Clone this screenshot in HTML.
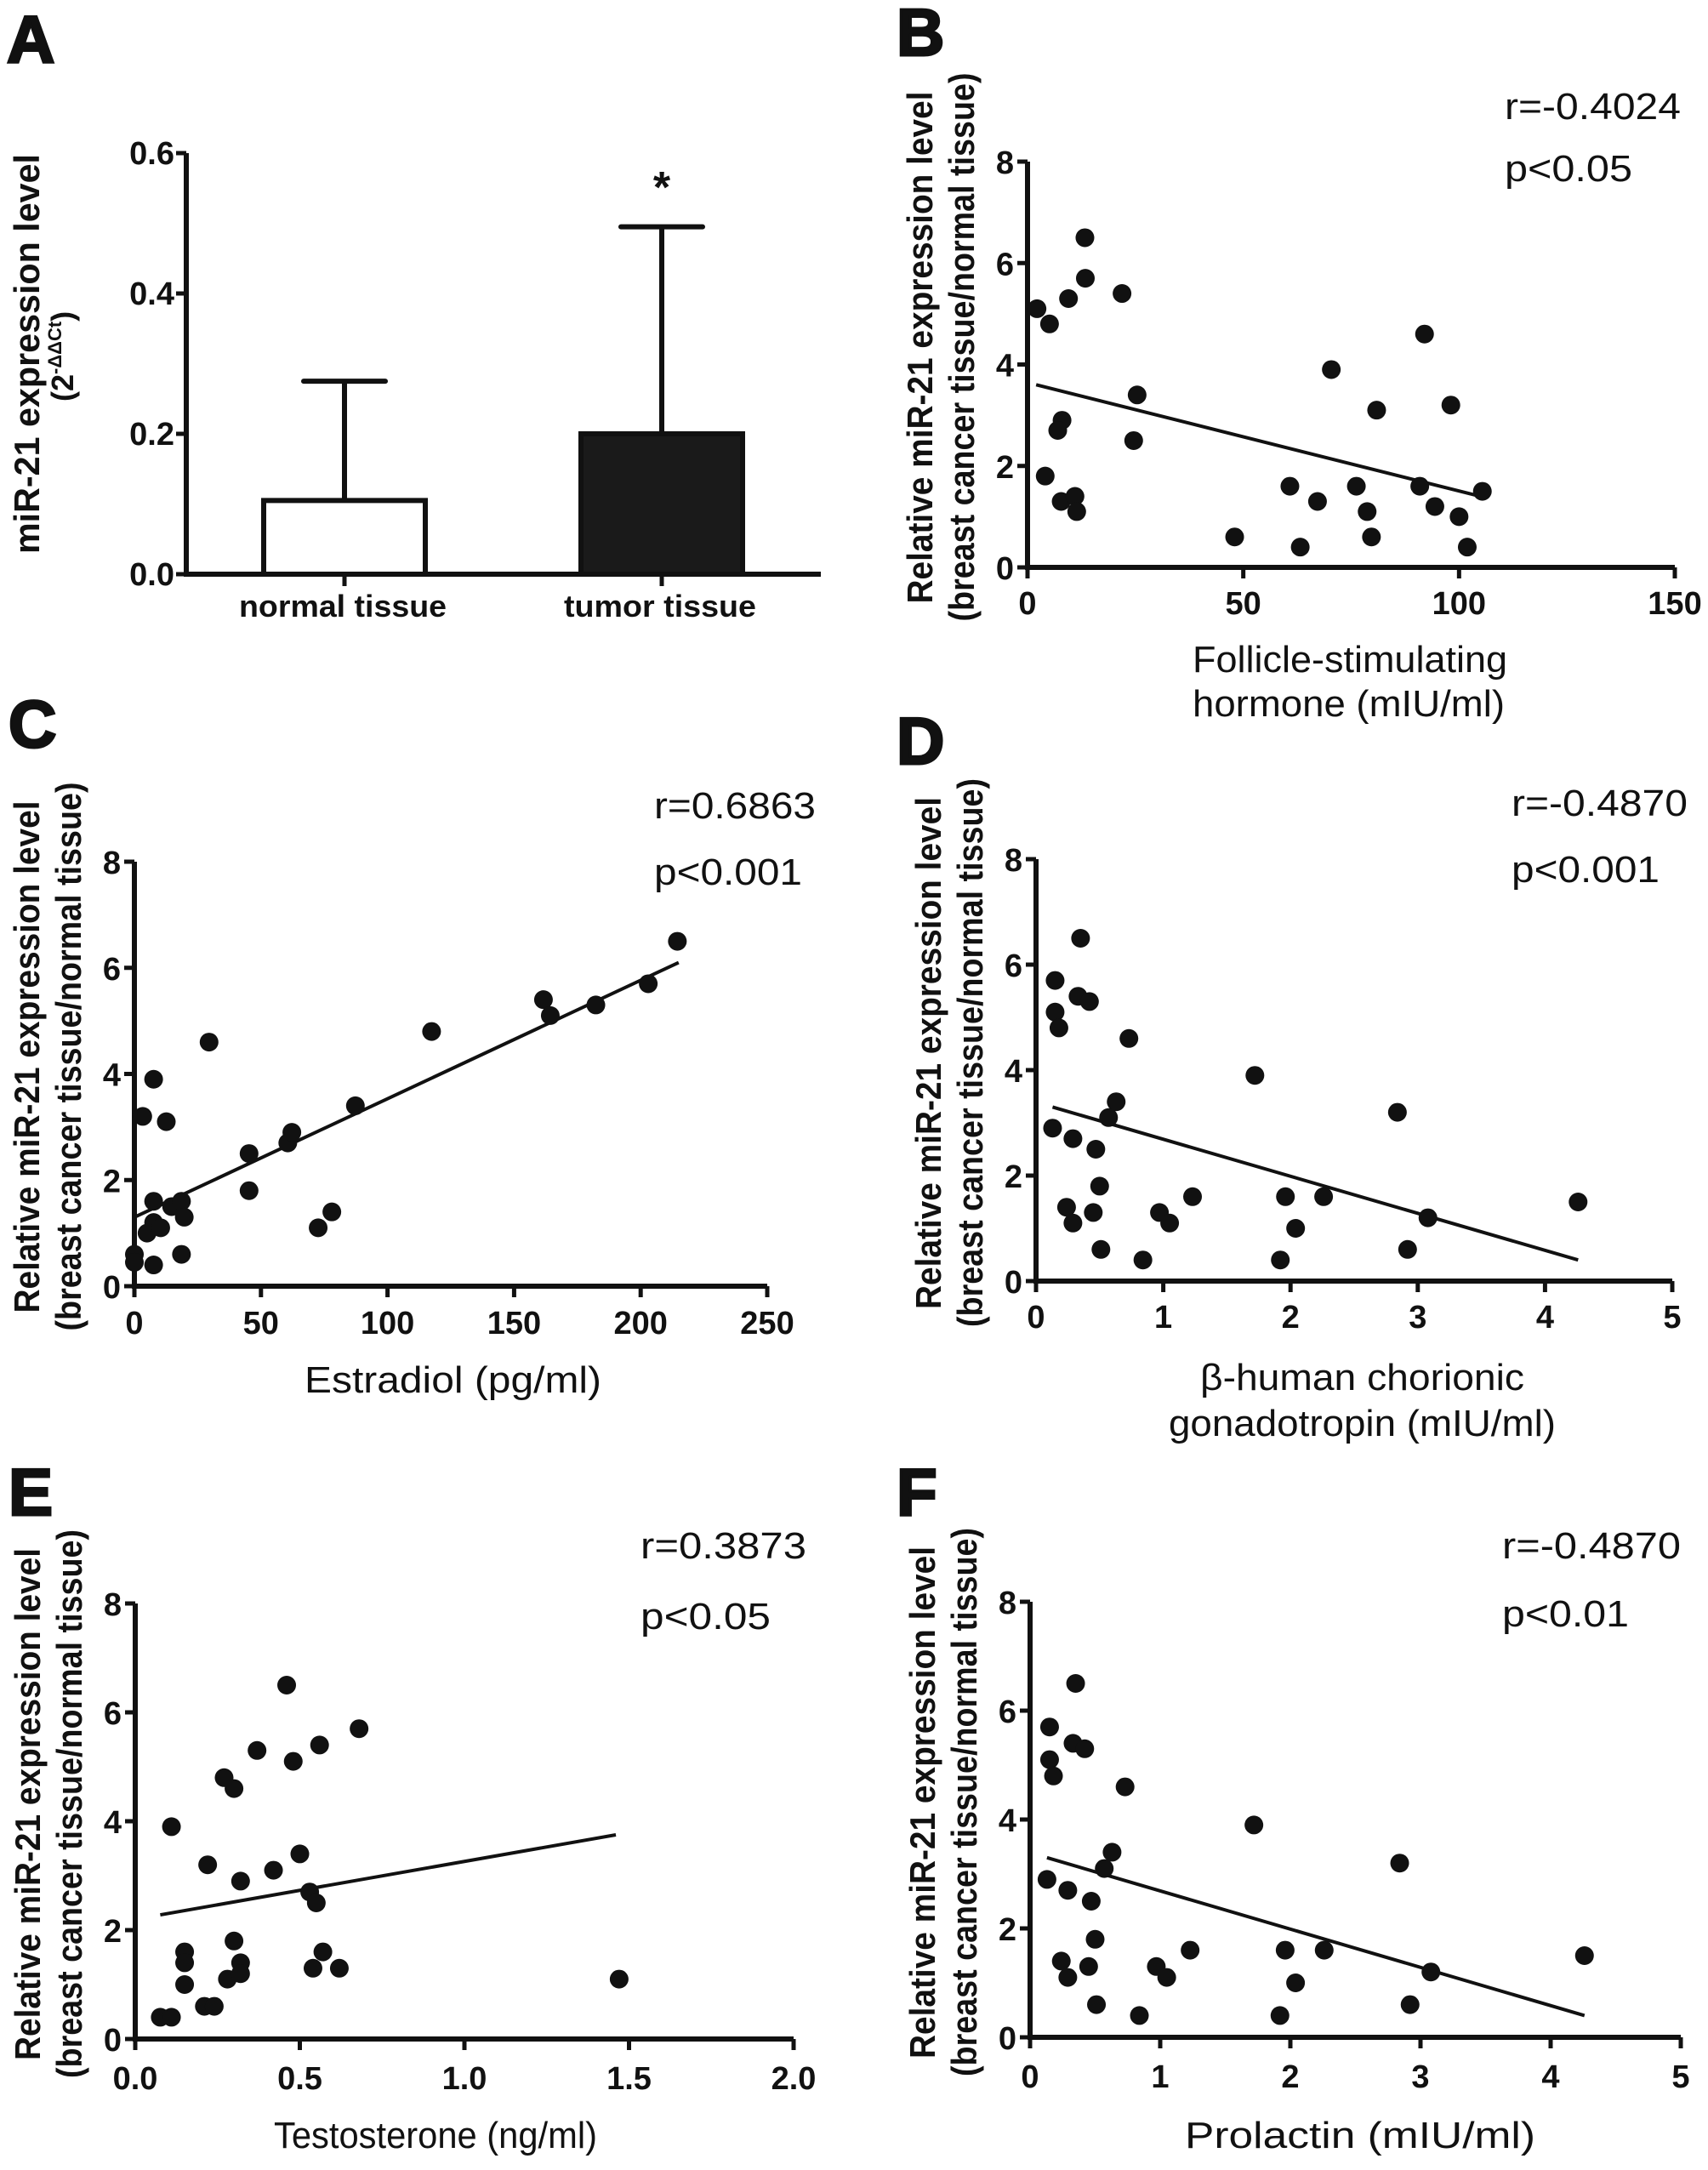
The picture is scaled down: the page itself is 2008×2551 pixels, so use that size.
<!DOCTYPE html>
<html><head><meta charset="utf-8"><style>
html,body{margin:0;padding:0;background:#fff;}
svg{display:block;}
text{font-family:"Liberation Sans",Arial,sans-serif;fill:#111;}
</style></head><body>
<svg id="fig" width="2008" height="2551" viewBox="0 0 2008 2551" xmlns="http://www.w3.org/2000/svg">
<rect width="2008" height="2551" fill="#fff"/>
</svg>
<script>
// ---- Panel A data ----
const aCategories = ["normal tissue", "tumor tissue"];
const aMeans = [0.105, 0.2];
const aErrTop = [0.275, 0.495];
const aTicks = [0.0, 0.2, 0.4, 0.6];
// ---- Panel B (FSH) ----
const bX = [2.2,5.1,9.5,13.3,13.4,21.9,25.4,24.6,8.0,7.0,4.1,7.8,11,11.4,48,60.8,63.2,67.2,70.4,76.2,78.7,79.7,80.9,90.9,92,94.4,98.1,100,101.9,105.4];
const bY = [5.1,4.8,5.3,6.5,5.7,5.4,3.4,2.5,2.9,2.7,1.8,1.3,1.4,1.1,0.6,1.6,0.4,1.3,3.9,1.6,1.1,0.6,3.1,1.6,4.6,1.2,3.2,1.0,0.4,1.5];
const bFit = [[2,3.6],[105,1.4]];
const bXTicks = [0,50,100,150];
// ---- Panel C (Estradiol) ----
const cX = [0,0,3.3,5,7.6,7.6,7.6,7.6,10.4,12.6,14.7,18.6,18.6,19.7,29.5,45.3,45.3,60.6,62.2,72.6,78,87.3,117.4,161.6,164.3,182.3,203,214.5];
const cY = [0.6,0.45,3.2,1.0,3.9,1.6,1.2,0.4,1.1,3.1,1.5,1.6,0.6,1.3,4.6,2.5,1.8,2.7,2.9,1.1,1.4,3.4,4.8,5.4,5.1,5.3,5.7,6.5];
const cFit = [[0,1.3],[215,6.1]];
const cXTicks = [0,50,100,150,200,250];
// ---- Panel D (beta-hCG) ----
const dX = [0.15,0.15,0.18,0.35,0.33,0.42,0.73,0.63,0.57,0.13,0.29,0.47,0.5,0.24,0.29,0.45,0.51,0.84,0.97,1.05,1.23,1.72,1.92,1.96,2.04,2.26,2.84,2.92,3.08,4.26];
const dY = [5.7,5.1,4.8,6.5,5.4,5.3,4.6,3.4,3.1,2.9,2.7,2.5,1.8,1.4,1.1,1.3,0.6,0.4,1.3,1.1,1.6,3.9,0.4,1.6,1.0,1.6,3.2,0.6,1.2,1.5];
const dFit = [[0.13,3.3],[4.26,0.4]];
const dXTicks = [0,1,2,3,4,5];
// ---- Panel E (Testosterone) ----
const eX = [0.076,0.11,0.11,0.15,0.15,0.15,0.21,0.24,0.22,0.27,0.30,0.28,0.30,0.32,0.32,0.32,0.37,0.42,0.46,0.48,0.50,0.53,0.54,0.55,0.56,0.57,0.62,0.68,1.47];
const eY = [0.4,0.4,3.9,1.6,1.4,1.0,0.6,0.6,3.2,4.8,4.6,1.1,1.8,1.4,2.9,1.2,5.3,3.1,6.5,5.1,3.4,2.7,1.3,2.5,5.4,1.6,1.3,5.7,1.1];
const eFit = [[0.076,2.28],[1.46,3.75]];
const eXTicks = ["0.0","0.5","1.0","1.5","2.0"];
// ---- Panel F (Prolactin) ----
const fX = [0.15,0.15,0.18,0.35,0.33,0.42,0.73,0.63,0.57,0.13,0.29,0.47,0.5,0.24,0.29,0.45,0.51,0.84,0.97,1.05,1.23,1.72,1.92,1.96,2.04,2.26,2.84,2.92,3.08,4.26];
const fY = [5.7,5.1,4.8,6.5,5.4,5.3,4.6,3.4,3.1,2.9,2.7,2.5,1.8,1.4,1.1,1.3,0.6,0.4,1.3,1.1,1.6,3.9,0.4,1.6,1.0,1.6,3.2,0.6,1.2,1.5];
const fFit = [[0.13,3.3],[4.26,0.4]];
const fXTicks = [0,1,2,3,4,5];
const yTicks = [0,2,4,6,8];

const NS = "http://www.w3.org/2000/svg";
const svg = document.getElementById("fig");
function el(tag, attrs, parent, txt){
  const e = document.createElementNS(NS, tag);
  for (const k in attrs) e.setAttribute(k, attrs[k]);
  if (txt !== undefined) e.textContent = txt;
  (parent || svg).appendChild(e);
  return e;
}
function grp(name){
  const g = el("g", {});
  
  
  return g;
}
function fitText(g, x, y, s, len, size, weight, anchor, rot){
  const a = {x:x, y:y, "font-size":size, "font-weight":weight, "text-anchor":anchor||"start", textLength:len, lengthAdjust:"spacingAndGlyphs"};
  if (rot) a.transform = "rotate(-90 "+x+" "+y+")";
  return el("text", a, g, s);
}

// ---------- Panel A ----------
(function(){
  const g = grp("panel-a");
  const ax = 219, y0 = 675, yTop = 180, xEnd = 965;
  const yS = v => y0 - (v/0.6)*(y0-yTop);
  const lab = el("text",{x:8,y:73,"font-size":78,"font-weight":"bold","stroke":"#111","stroke-width":3},g,"A");
  
  
  const centers = [405, 778], bw = 190;
  aCategories.forEach((c,i)=>{
    const top = yS(aMeans[i]);
    const err = el("line",{x1:centers[i],x2:centers[i],y1:yS(aErrTop[i]),y2:top,stroke:"#111","stroke-width":6},g);
    
    
    const cap = el("line",{x1:centers[i]-48,x2:centers[i]+48,y1:yS(aErrTop[i]),y2:yS(aErrTop[i]),stroke:"#111","stroke-width":6,"stroke-linecap":"round"},g);
    
    
    const b = el("rect",{x:centers[i]-bw/2,y:top,width:bw,height:y0-top,fill:i?"#1a1a1a":"#fff",stroke:"#111","stroke-width":6},g);
    
    
    el("line",{x1:centers[i],x2:centers[i],y1:y0,y2:y0+14,stroke:"#111","stroke-width":5},g);
    const t = fitText(g, centers[i]-2, 725, c, i?226:244, 36, "bold", "middle");
    
    
  });
  el("line",{x1:ax,x2:ax,y1:yTop,y2:y0,stroke:"#111","stroke-width":6},g);
  el("line",{x1:ax-3,x2:xEnd,y1:y0,y2:y0,stroke:"#111","stroke-width":6},g);
  aTicks.forEach(v=>{
    el("line",{x1:ax-12,x2:ax,y1:yS(v),y2:yS(v),stroke:"#111","stroke-width":5},g);
    const t = el("text",{x:ax-14,y:yS(v)+13,"font-size":38,"font-weight":"bold","text-anchor":"end"},g,v.toFixed(1));
    
    
  });
  const star = el("text",{x:778,y:238,"font-size":52,"font-weight":"bold","text-anchor":"middle"},g,"*");
  
  
  const yt = fitText(g, 46, 651, "miR-21 expression level", 470, 42, "bold", "start", true);
  
  
  const yt2 = el("text",{x:86,y:472,"font-size":36,"font-weight":"bold",transform:"rotate(-90 86 472)"},g);
  
  
  el("tspan",{},yt2,"(2");
  el("tspan",{"font-size":22,dy:-14},yt2,"-ΔΔCt");
  el("tspan",{dy:14},yt2,")");
})();

// ---------- scatter panels ----------
function scatter(o){
  const g = grp("panel-"+o.id);
  const L = el("text",{x:o.lx,y:o.ly,"font-size":78,"font-weight":"bold","stroke":"#111","stroke-width":3},g,o.id.toUpperCase());
  
  
  const xS = v => o.ax + (v/o.xmax)*(o.axEnd-o.ax);
  const yS = v => o.y0 - (v/8)*(o.y0-o.y8);
  el("line",{x1:o.ax,x2:o.ax,y1:o.y8,y2:o.y0,stroke:"#111","stroke-width":6},g);
  el("line",{x1:o.ax-3,x2:o.axEnd,y1:o.y0,y2:o.y0,stroke:"#111","stroke-width":6},g);
  yTicks.forEach(v=>{
    el("line",{x1:o.ax-12,x2:o.ax,y1:yS(v),y2:yS(v),stroke:"#111","stroke-width":5},g);
    const t = el("text",{x:o.ax-16,y:yS(v)+14,"font-size":38,"font-weight":"bold","text-anchor":"end"},g,String(v));
    
    
  });
  o.xt.forEach(v=>{
    const xv = xS(parseFloat(v));
    el("line",{x1:xv,x2:xv,y1:o.y0,y2:o.y0+13,stroke:"#111","stroke-width":5},g);
    const t = el("text",{x:xv,y:o.tb+2,"font-size":38,"font-weight":"bold","text-anchor":"middle"},g,String(v));
    
    
  });
  const fl = el("line",{x1:xS(o.fit[0][0]),y1:yS(o.fit[0][1]),x2:xS(o.fit[1][0]),y2:yS(o.fit[1][1]),stroke:"#111","stroke-width":4},g);
  
  
  o.X.forEach((xv,i)=>{
    const c = el("circle",{cx:xS(xv),cy:yS(o.Y[i]),r:11,fill:"#111"},g);
    
    
  });
  const mid = (o.y0+o.y8)/2 - 20;
  const t1 = fitText(g, o.ax-112, mid+301, "Relative miR-21 expression level", 602, 42, "bold", "start", true);
  
  
  const t2 = fitText(g, o.ax-63, mid+322, "(breast cancer tissue/normal tissue)", 645, 42, "bold", "start", true);
  
  
  o.titles.forEach(tt=>{
    const t = fitText(g, tt[1], tt[2], tt[0], tt[3], 44, "normal", "start");
    
    
  });
  const r = fitText(g, o.rx, o.rb, o.r, o.rl, 44, "normal", "start");
  
  
  const p = fitText(g, o.rx, o.pb, o.p, o.pl, 44, "normal", "start");
  
  
}

scatter({id:"b",lx:1054,ly:65,ax:1208,axEnd:1969,xmax:150,y0:667,y8:190,tb:720,X:bX,Y:bY,fit:bFit,xt:bXTicks,
  titles:[["Follicle-stimulating",1402,790,370],["hormone (mIU/ml)",1402,842,367]],
  rx:1769,rb:140,r:"r=-0.4024",rl:207,pb:213,p:"p<0.05",pl:150});
scatter({id:"c",lx:10,ly:878,ax:158,axEnd:902,xmax:250,y0:1512,y8:1013,tb:1566,X:cX,Y:cY,fit:cFit,xt:cXTicks,
  titles:[["Estradiol (pg/ml)",358,1637,349]],
  rx:769,rb:962,r:"r=0.6863",rl:190,pb:1040,p:"p<0.001",pl:174});
scatter({id:"d",lx:1054,ly:898,ax:1218,axEnd:1966,xmax:5,y0:1506,y8:1010,tb:1559,X:dX,Y:dY,fit:dFit,xt:dXTicks,
  titles:[["β-human chorionic",1411,1634,381],["gonadotropin (mIU/ml)",1374,1688,455]],
  rx:1777,rb:959,r:"r=-0.4870",rl:207,pb:1037,p:"p<0.001",pl:174});
scatter({id:"e",lx:10,ly:1781,ax:159,axEnd:933,xmax:2,y0:2397,y8:1885,tb:2454,X:eX,Y:eY,fit:eFit,xt:eXTicks,
  titles:[["Testosterone (ng/ml)",322,2525,380]],
  rx:753,rb:1832,r:"r=0.3873",rl:195,pb:1915,p:"p<0.05",pl:153});
scatter({id:"f",lx:1054,ly:1781,ax:1211,axEnd:1976,xmax:5,y0:2395,y8:1883,tb:2452,X:fX,Y:fY,fit:fFit,xt:fXTicks,
  titles:[["Prolactin (mIU/ml)",1393,2525,412]],
  rx:1766,rb:1832,r:"r=-0.4870",rl:210,pb:1912,p:"p<0.01",pl:149});
</script>
</body></html>
